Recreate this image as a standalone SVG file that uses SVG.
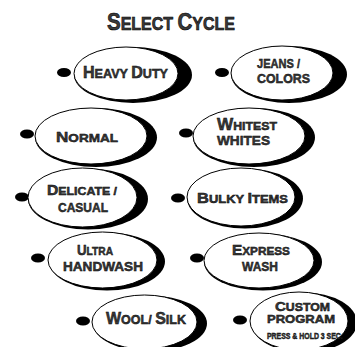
<svg xmlns="http://www.w3.org/2000/svg" width="355" height="347" viewBox="0 0 355 347">
<style>
.bg{fill:#fff}
.shadow{fill:#000}
.face{fill:#fff;stroke:#000;stroke-width:1}
.dot{fill:#000}
.lbl{font-family:"Liberation Sans",Arial,sans-serif;font-weight:bold;fill:#3a3a3a;stroke:#000;stroke-width:0.45}
.title{font-family:"Liberation Sans",Arial,sans-serif;font-weight:bold;fill:#3a3a3a;stroke:#000;stroke-width:0.6}
</style>
<rect class="bg" x="0" y="0" width="355" height="347"/>
<g id="title">
<text class="title" transform="translate(107,30) scale(0.89,1)" x="0" y="0"><tspan font-size="23">S</tspan><tspan font-size="18">ELECT  </tspan><tspan font-size="23">C</tspan><tspan font-size="18">YCLE</tspan></text>
</g>
<g id="heavy-duty">
<ellipse class="dot" cx="64" cy="72.5" rx="7" ry="4.5"/>
<ellipse class="shadow" cx="133" cy="75" rx="59" ry="28"/>
<ellipse class="face" cx="126" cy="73.5" rx="52" ry="26.5"/>
<text class="lbl" x="83" y="78" textLength="85" lengthAdjust="spacingAndGlyphs"><tspan font-size="16">H</tspan><tspan font-size="12.5">EAVY </tspan><tspan font-size="16">D</tspan><tspan font-size="12.5">UTY</tspan></text>
</g>
<g id="jeans-colors">
<ellipse class="dot" cx="222" cy="72.5" rx="7" ry="4.5"/>
<ellipse class="shadow" cx="289" cy="74.5" rx="58" ry="28.5"/>
<ellipse class="face" cx="282" cy="73" rx="51" ry="27"/>
<text class="lbl" x="257" y="68" font-size="13.5" textLength="43" lengthAdjust="spacingAndGlyphs">JEANS /</text>
<text class="lbl" x="257" y="83" font-size="13.5" textLength="53" lengthAdjust="spacingAndGlyphs">COLORS</text>
</g>
<g id="normal">
<ellipse class="dot" cx="27" cy="134" rx="7" ry="4.5"/>
<ellipse class="shadow" cx="96" cy="137.5" rx="61" ry="29.5"/>
<ellipse class="face" cx="91" cy="136" rx="56" ry="28"/>
<text class="lbl" x="56" y="142" textLength="62" lengthAdjust="spacingAndGlyphs"><tspan font-size="14.5">N</tspan><tspan font-size="11.5">ORMAL</tspan></text>
</g>
<g id="whitest-whites">
<ellipse class="dot" cx="186" cy="133" rx="7" ry="4.5"/>
<ellipse class="shadow" cx="254" cy="137.5" rx="61" ry="29.5"/>
<ellipse class="face" cx="249" cy="136" rx="56" ry="28"/>
<text class="lbl" x="217" y="130" textLength="60" lengthAdjust="spacingAndGlyphs"><tspan font-size="16">W</tspan><tspan font-size="11.5">HITEST</tspan></text>
<text class="lbl" x="217" y="145" font-size="13.5" textLength="53" lengthAdjust="spacingAndGlyphs">WHITES</text>
</g>
<g id="delicate-casual">
<ellipse class="dot" cx="22" cy="197" rx="7" ry="4.5"/>
<ellipse class="shadow" cx="88" cy="199" rx="60" ry="30.5"/>
<ellipse class="face" cx="82.5" cy="197.5" rx="54.5" ry="29.5"/>
<text class="lbl" x="47" y="195" textLength="70" lengthAdjust="spacingAndGlyphs"><tspan font-size="14">D</tspan><tspan font-size="11">ELICATE /</tspan></text>
<text class="lbl" x="58" y="212" font-size="13.5" textLength="50" lengthAdjust="spacingAndGlyphs">CASUAL</text>
</g>
<g id="bulky-items">
<ellipse class="dot" cx="178" cy="198" rx="7" ry="4.5"/>
<ellipse class="shadow" cx="245" cy="198.5" rx="58" ry="30"/>
<ellipse class="face" cx="241" cy="197" rx="54" ry="29"/>
<text class="lbl" x="197" y="203" textLength="91" lengthAdjust="spacingAndGlyphs"><tspan font-size="14">B</tspan><tspan font-size="11">ULKY  </tspan><tspan font-size="14">I</tspan><tspan font-size="11">TEMS</tspan></text>
</g>
<g id="ultra-handwash">
<ellipse class="dot" cx="38" cy="258" rx="7" ry="4.5"/>
<ellipse class="shadow" cx="107" cy="261.5" rx="58" ry="29"/>
<ellipse class="face" cx="102.5" cy="260" rx="54.5" ry="28"/>
<text class="lbl" x="77" y="254.5" textLength="36" lengthAdjust="spacingAndGlyphs"><tspan font-size="15">U</tspan><tspan font-size="11.5">LTRA</tspan></text>
<text class="lbl" x="63" y="270.5" font-size="13" textLength="80" lengthAdjust="spacingAndGlyphs">HANDWASH</text>
</g>
<g id="express-wash">
<ellipse class="dot" cx="197" cy="258" rx="7" ry="4.5"/>
<ellipse class="shadow" cx="263" cy="262" rx="59" ry="28.5"/>
<ellipse class="face" cx="259" cy="260.5" rx="55" ry="27.5"/>
<text class="lbl" x="232" y="254.5" textLength="58" lengthAdjust="spacingAndGlyphs"><tspan font-size="15">E</tspan><tspan font-size="11.5">XPRESS</tspan></text>
<text class="lbl" x="242" y="270.5" font-size="13" textLength="36" lengthAdjust="spacingAndGlyphs">WASH</text>
</g>
<g id="wool-silk">
<ellipse class="dot" cx="83" cy="321" rx="7" ry="4.5"/>
<ellipse class="shadow" cx="150" cy="323.5" rx="57" ry="28"/>
<ellipse class="face" cx="144.5" cy="322" rx="52.5" ry="27"/>
<text class="lbl" x="106" y="324" textLength="80" lengthAdjust="spacingAndGlyphs"><tspan font-size="16">W</tspan><tspan font-size="12.5">OOL/ </tspan><tspan font-size="16">S</tspan><tspan font-size="12.5">ILK</tspan></text>
</g>
<g id="custom-program">
<ellipse class="dot" cx="240" cy="320" rx="7" ry="4.5"/>
<ellipse class="shadow" cx="304" cy="322.5" rx="53" ry="30"/>
<ellipse class="face" cx="299" cy="321" rx="49" ry="29"/>
<text class="lbl" x="275" y="311" textLength="55" lengthAdjust="spacingAndGlyphs"><tspan font-size="13.5">C</tspan><tspan font-size="11">USTOM</tspan></text>
<text class="lbl" x="267" y="323" font-size="11.5" textLength="68" lengthAdjust="spacingAndGlyphs">PROGRAM</text>
<text class="lbl" transform="translate(267,339) scale(0.77,1)" x="0" y="0" font-size="9" stroke-width="0.2">PRESS &amp; HOLD 3 SEC.</text>
</g>
</svg>
